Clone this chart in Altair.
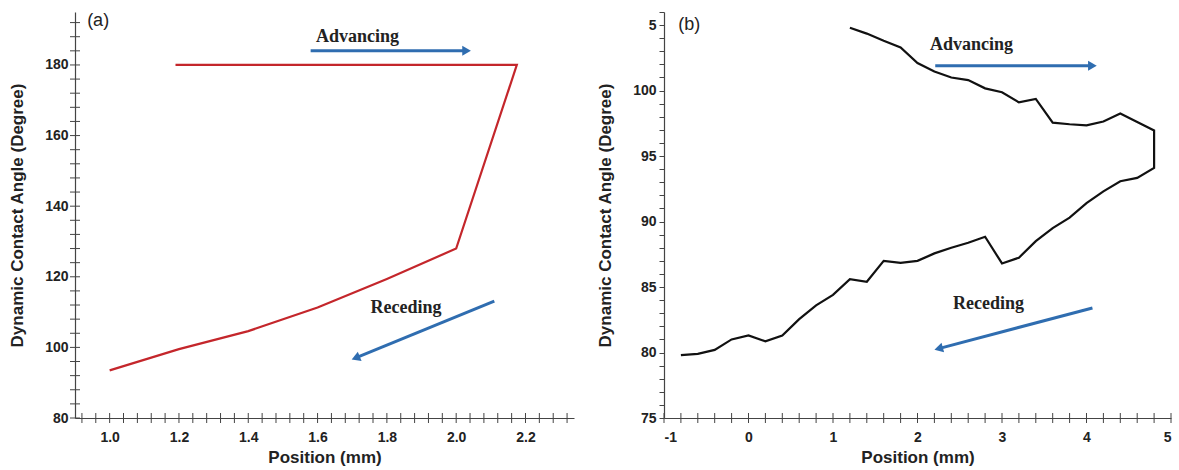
import altair as alt
import pandas as pd

# ---------------- Panel (a) data ----------------
a_pos = [1.0, 1.2, 1.4, 1.6, 1.8, 2.0, 2.175, 1.19]
a_angle = [93.5, 99.5, 104.6, 111.3, 119.4, 128.0, 180.0, 180.0]
a_x_labels = [1.0, 1.2, 1.4, 1.6, 1.8, 2.0, 2.2]
a_y_labels = [80, 100, 120, 140, 160, 180]
a_xdom = [0.9, 2.34]
a_ydom = [80, 195]

# arrows (x, y, x2, y2) and labels (x, y, text)
a_arrow_x = [1.58, 2.11]
a_arrow_y = [184.0, 113.1]
a_arrow_x2 = [2.03, 1.71]
a_arrow_y2 = [184.0, 97.0]
a_arrow_angle = [0, 158]
a_text_x = [1.715, 1.855]
a_text_y = [188.0, 111.2]
a_text = ["Advancing", "Receding"]
a_tag_x, a_tag_y = [0.935], [192.5]

# ---------------- Panel (b) data ----------------
b_pos = [1.2, 1.4, 1.6, 1.8, 2.0, 2.2, 2.4, 2.6, 2.8, 3.0, 3.2, 3.4, 3.6, 3.8, 4.0,
         4.2, 4.4, 4.6, 4.8, 4.8, 4.6, 4.4, 4.2, 4.0, 3.8, 3.6, 3.4, 3.2, 3.0, 2.8,
         2.6, 2.4, 2.2, 2.0, 1.8, 1.6, 1.4, 1.2, 1.0, 0.8, 0.6, 0.4, 0.2, 0.0,
         -0.2, -0.4, -0.6, -0.8]
b_angle = [104.8, 104.35, 103.8, 103.3, 102.1, 101.45, 101.0, 100.8, 100.17, 99.87,
           99.1, 99.36, 97.55, 97.43, 97.35, 97.64, 98.25, 97.6, 96.95, 94.1,
           93.33, 93.08, 92.3, 91.4, 90.3, 89.5, 88.5, 87.24, 86.8, 88.84,
           88.38, 88.0, 87.57, 87.0, 86.85, 87.0, 85.4, 85.6, 84.4, 83.6,
           82.55, 81.3, 80.85, 81.3, 81.0, 80.2, 79.9, 79.8]
b_x_labels = [-1, 0, 1, 2, 3, 4, 5]
b_xdom = [-1, 5]
b_ydom = [75, 106]

b_arrow_x = [2.21, 4.07]
b_arrow_y = [101.9, 83.4]
b_arrow_x2 = [4.07, 2.25]
b_arrow_y2 = [101.9, 80.3]
b_arrow_angle = [0, 165]
b_text_x = [2.64, 2.84]
b_text_y = [103.5, 83.7]
b_text = ["Advancing", "Receding"]
b_tag_x, b_tag_y = [-0.83], [105.0]

# minor tick positions (axis decoration)
a_xticks = [round(0.92 + 0.04 * i, 2) for i in range(36)]
a_yticks = [80 + 4 * i for i in range(29)]
b_xticks = [round(-1 + 0.2 * i, 1) for i in range(31)]
b_yticks = list(range(75, 107))

W_A, W_B, H = 499, 507, 406
RED = "#C4262B"
BLUE = "#2F6DB0"
SERIF = "Liberation Serif"
SANS = "Liberation Sans"


def panel(pos, ang, color, xdom, ydom, xlabels, xexpr, yaxis, xticks, yticks,
          ycross, ax, ay, ax2, ay2, aang, tx, ty, tt, tagx, tagy, tag, width):
    df = pd.DataFrame({"x": pos, "y": ang, "o": list(range(len(pos)))})
    xs = alt.Scale(domain=xdom, nice=False, zero=False)
    ys = alt.Scale(domain=ydom, nice=False, zero=False)
    xaxis = alt.Axis(values=xlabels, labelExpr=xexpr, ticks=False, labelPadding=12,
                     title="Position (mm)", titlePadding=5, grid=False, labelOverlap=False)

    def X(f):
        return alt.X(f, scale=xs, axis=xaxis)

    def Y(f):
        return alt.Y(f, scale=ys, axis=yaxis)

    line = alt.Chart(df).mark_line(color=color, strokeWidth=2.2).encode(
        x=X("x:Q"), y=Y("y:Q"), order="o:Q")
    xt = alt.Chart(pd.DataFrame({"t": xticks})).mark_rule(color="#444", strokeWidth=1).encode(
        x=X("t:Q"), y=alt.value(H - 5), y2=alt.value(H + 5))
    layers = [line, xt]
    if ycross:
        yt = alt.Chart(pd.DataFrame({"t": yticks})).mark_rule(color="#444", strokeWidth=1).encode(
            y=Y("t:Q"), x=alt.value(-5), x2=alt.value(5))
        layers.append(yt)
    adf = pd.DataFrame({"x": ax, "y": ay, "x2": ax2, "y2": ay2, "a": aang})
    shaft = alt.Chart(adf).mark_rule(color=BLUE, strokeWidth=3).encode(
        x=X("x:Q"), y=Y("y:Q"), x2="x2:Q", y2="y2:Q")
    head = alt.Chart(adf).mark_point(shape="triangle-right", filled=True, opacity=1,
                                     color=BLUE, size=100).encode(
        x=X("x2:Q"), y=Y("y2:Q"), angle=alt.Angle("a:Q", scale=None))
    tdf = pd.DataFrame({"x": tx, "y": ty, "t": tt})
    txt = alt.Chart(tdf).mark_text(font=SERIF, fontWeight="bold", fontSize=18,
                                   color="#222").encode(
        x=X("x:Q"), y=Y("y:Q"), text="t:N")
    gdf = pd.DataFrame({"x": tagx, "y": tagy, "t": [tag]})
    tagm = alt.Chart(gdf).mark_text(font=SANS, fontSize=18, align="left",
                                    color="#222").encode(
        x=X("x:Q"), y=Y("y:Q"), text="t:N")
    layers += [shaft, head, txt, tagm]
    return alt.layer(*layers).properties(width=width, height=H)


yaxis_a = alt.Axis(values=a_y_labels, ticks=False, labelPadding=7, grid=False,
                   labelOverlap=False,
                   title="Dynamic Contact Angle (Degree)", titlePadding=18)
yaxis_b = alt.Axis(values=b_yticks, tickSize=5, labelPadding=3, grid=False,
                   labelOverlap=False,
                   labelExpr="datum.value == 105 ? '5' : (datum.value % 5 == 0 ? '' + datum.value : '')",
                   title="Dynamic Contact Angle (Degree)", titlePadding=18)

left = panel(a_pos, a_angle, RED, a_xdom, a_ydom, a_x_labels, "format(datum.value, '.1f')",
             yaxis_a, a_xticks, a_yticks, True, a_arrow_x, a_arrow_y, a_arrow_x2, a_arrow_y2,
             a_arrow_angle, a_text_x, a_text_y, a_text, a_tag_x, a_tag_y, "(a)", W_A)
right = panel(b_pos, b_angle, "#111111", b_xdom, b_ydom, b_x_labels, "'' + datum.value",
              yaxis_b, b_xticks, b_yticks, False, b_arrow_x, b_arrow_y, b_arrow_x2, b_arrow_y2,
              b_arrow_angle, b_text_x, b_text_y, b_text, b_tag_x, b_tag_y, "(b)", W_B)

chart = alt.hconcat(left, right, spacing=22).properties(
    padding={"left": 8, "top": 5, "right": 4, "bottom": 5},
    background="white",
).configure_view(stroke=None).configure_axis(
    labelFont=SANS, labelFontWeight="bold", labelFontSize=14, labelColor="#222",
    titleFont=SANS, titleFontWeight="bold", titleFontSize=17, titleColor="#222",
    domainColor="#444", tickColor="#444", domainWidth=1.2, labelOverlap=False,
)

chart.save("out.html", embed_options={"renderer": "svg", "actions": False})
